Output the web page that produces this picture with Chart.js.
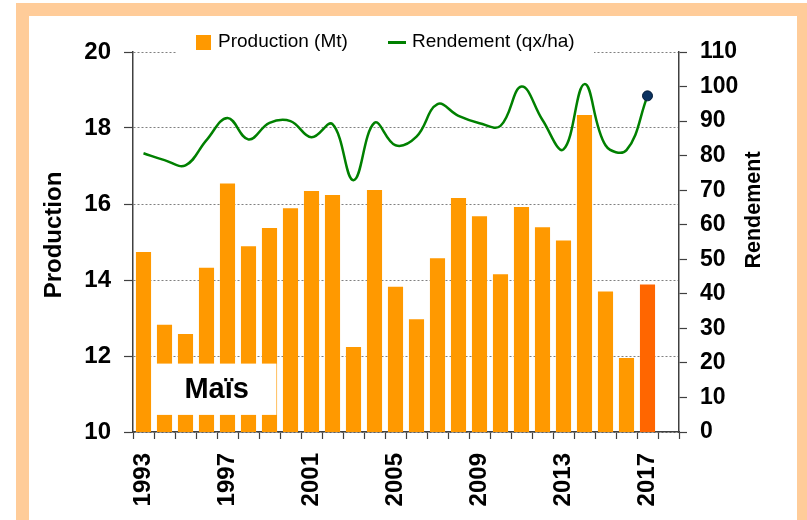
<!DOCTYPE html>
<html>
<head>
<meta charset="utf-8">
<script src="https://cdn.jsdelivr.net/npm/chart.js@4.4.1/dist/chart.umd.min.js"></script>
<style>
  html, body { margin: 0; padding: 0; background: #fff; overflow: hidden; }
  #frame {
    position: absolute; left: 16px; top: 3px; width: 794px; height: 600px;
    box-sizing: border-box; border: 13px solid #FFCC99; border-bottom: none;
  }
  #wrap { position: absolute; left: 0; top: 0; width: 807px; height: 520px; }
</style>
</head>
<body>
<div id="frame"></div>
<div id="wrap"><canvas id="chart"></canvas></div>
<script>
const years = ["1993", "1994", "1995", "1996", "1997", "1998", "1999", "2000", "2001",
    "2002", "2003", "2004", "2005", "2006", "2007", "2008", "2009", "2010", "2011",
    "2012", "2013", "2014", "2015", "2016", "2017", "2018"];

// Production (Mt), left axis
const production = [14.74, 12.82, 12.58, 14.32, 16.54, 14.89, 15.37, 15.89, 16.34,
    16.24, 12.24, 16.37, 13.82, 12.97, 14.57, 16.16, 15.68, 14.15, 15.92,
    15.39, 15.04, 18.34, 13.70, 11.95, 13.88, null];

// Rendement (qx/ha), right axis
const rendement = [80.7, 78.7, 77.2, 84.5, 90.9, 84.7, 89.5, 90.0, 85.3,
    89.1, 72.9, 89.5, 83.0, 85.5, 94.9, 91.5, 89.4, 88.6, 100.0,
    90.3, 81.8, 100.7, 83.0, 81.6, 97.3, null];

const labelEvery = 4;
const boxLabel = "Maïs";
const FONT = '"Liberation Sans", Arial, sans-serif';

const barColors = production.map((v, i) => (i === production.length - 2 ? "#FF6600" : "#FF9900"));
const pointSizes = rendement.map((v, i) => (i === rendement.length - 2 ? 5 : 0));

const decor = {
    id: "decor",
    afterDatasetsDraw(chart) {
        const { ctx, scales } = chart;
        const x = scales.x, y = scales.y;
        ctx.save();
        // "Maïs" label box over the bars
        const bx0 = x.getPixelForValue(0.45), bx1 = x.getPixelForValue(6.33);
        const by0 = y.getPixelForValue(11.8), by1 = y.getPixelForValue(10.45);
        ctx.fillStyle = "#fff";
        ctx.fillRect(bx0, by0, bx1 - bx0, by1 - by0);
        ctx.fillStyle = "#000";
        ctx.font = "bold 29px " + FONT;
        ctx.textAlign = "center";
        ctx.textBaseline = "middle";
        ctx.fillText(boxLabel, (bx0 + bx1) / 2 + 2, (by0 + by1) / 2 + 1);
        ctx.restore();
    },
    afterDraw(chart) {
        const { ctx } = chart;
        ctx.save();
        // legend (sits on top of the upper grid line)
        ctx.fillStyle = "#fff";
        ctx.fillRect(176, 28, 418, 27);
        ctx.fillStyle = "#FF9900";
        ctx.fillRect(196, 35, 15, 15);
        ctx.strokeStyle = "#008000";
        ctx.lineWidth = 3;
        ctx.beginPath();
        ctx.moveTo(388, 42.5);
        ctx.lineTo(406, 42.5);
        ctx.stroke();
        ctx.fillStyle = "#000";
        ctx.font = "19px " + FONT;
        ctx.textAlign = "left";
        ctx.textBaseline = "middle";
        ctx.fillText("Production (Mt)", 218, 42);
        ctx.fillText("Rendement (qx/ha)", 412, 42);

        // axis titles
        ctx.font = "bold 24px " + FONT;
        ctx.textAlign = "center";
        ctx.translate(54, 235);
        ctx.rotate(-Math.PI / 2);
        ctx.fillText("Production", 0, 0);
        ctx.setTransform(1, 0, 0, 1, 0, 0);
        ctx.font = "bold 21.5px " + FONT;
        ctx.translate(754, 210);
        ctx.rotate(-Math.PI / 2);
        ctx.fillText("Rendement", 0, 0);
        ctx.restore();
    },
};

new Chart(document.getElementById("chart"), {
    data: {
        labels: years,
        datasets: [
            {
                type: "line",
                label: "Rendement (qx/ha)",
                data: rendement,
                yAxisID: "y1",
                borderColor: "#008000",
                borderWidth: 2.5,
                tension: 0.4,
                pointRadius: pointSizes,
                pointBackgroundColor: "#0B3260",
                pointBorderColor: "#061D3A",
                pointBorderWidth: 1,
                order: 0,
            },
            {
                type: "bar",
                label: "Production (Mt)",
                data: production,
                yAxisID: "y",
                backgroundColor: barColors,
                barPercentage: 0.72,
                categoryPercentage: 1,
                order: 1,
            },
        ],
    },
    options: {
        responsive: true,
        maintainAspectRatio: false,
        animation: false,
        layout: { padding: { top: 52, left: 0, right: 0, bottom: 0 } },
        plugins: {
            legend: { display: false },
            tooltip: { enabled: false },
        },
        scales: {
            x: {
                afterFit: (s) => { s.height = 88; },
                grid: {
                    drawOnChartArea: false,
                    offset: true,
                    tickLength: 7,
                    tickColor: "#404040",
                    tickWidth: 1.2,
                },
                border: { color: "#404040", width: 1.5 },
                ticks: {
                    autoSkip: false,
                    minRotation: 90,
                    maxRotation: 90,
                    padding: 14,
                    color: "#000",
                    font: { family: FONT, size: 24, weight: "bold" },
                    callback: function (value, index) {
                        return index % labelEvery === 0 ? this.getLabelForValue(value) : "";
                    },
                },
            },
            y: {
                position: "left",
                min: 10,
                max: 20,
                afterFit: (s) => { s.width = 133; },
                grid: {
                    color: "#808080",
                    lineWidth: 1,
                    tickLength: 9,
                    tickColor: "#404040",
                    tickWidth: 1.2,
                    tickBorderDash: [],
                },
                border: { color: "#404040", width: 1.5, dash: [2, 2] },
                ticks: {
                    stepSize: 2,
                    padding: 13,
                    color: "#000",
                    font: { family: FONT, size: 24, weight: "bold" },
                },
            },
            y1: {
                position: "right",
                min: 0,
                max: 110,
                afterFit: (s) => { s.width = 128; },
                grid: {
                    drawOnChartArea: false,
                    tickLength: 8,
                    tickColor: "#404040",
                    tickWidth: 1.2,
                },
                border: { color: "#404040", width: 1.5 },
                ticks: {
                    stepSize: 10,
                    padding: 13,
                    color: "#000",
                    font: { family: FONT, size: 23, weight: "bold" },
                },
            },
        },
    },
    plugins: [decor],
});
</script>
</body>
</html>
